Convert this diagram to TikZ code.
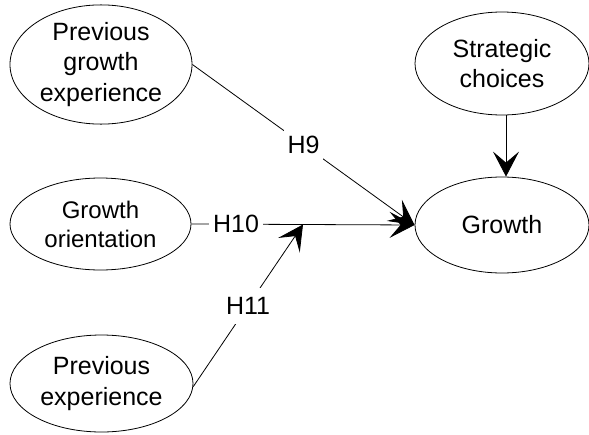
\documentclass[tikz,border=0pt]{standalone}
\usepackage{fontspec}
\setmainfont{Liberation Sans}
\usetikzlibrary{arrows.meta,shapes.geometric,calc}

\begin{document}
\begin{tikzpicture}[x=1pt,y=-1pt,
  construct/.style={draw, ellipse, line width=0.8pt, inner sep=0pt,
    align=center, font=\fontsize{25}{30.5}\selectfont},
  link/.style={line width=0.8pt,
    -{Stealth[length=25pt,width=26pt,inset=11pt]}},
  hyp/.style={fill=white, inner xsep=4pt, inner ysep=9.5pt,
    font=\fontsize{25}{30}\selectfont}
]
\useasboundingbox (0,0) rectangle (589,434);

% constructs
\node[construct, minimum width=182pt, minimum height=102pt] (pge) at (101,64.5)
  {Previous\\growth\\experience};
\node[construct, minimum width=181pt, minimum height=92pt,
  font=\fontsize{24}{29}\selectfont] (go) at (100.5,224)
  {Growth\\orientation};
\node[construct, minimum width=183pt, minimum height=97pt] (pe) at (101.5,383.5)
  {Previous\\experience};
\node[construct, minimum width=174pt, minimum height=103pt] (sc) at (502,63.5)
  {Strategic\\choices};
\node[construct, minimum width=174pt, minimum height=96pt] (gr) at (502,225)
  {Growth};

% moderating point on the H10 path
\coordinate (mod) at ($(go.east)!0.5!(gr.west)$);

% hypothesised paths
\draw[link] (pge.east) -- node[hyp] {H9} (gr.west);
\draw[link] (go.east) -- node[hyp, pos=0.2] {H10} (gr.west);
\draw[link] (pe.-2) -- node[hyp] {H11} (mod);
\draw[link] ([xshift=4pt]sc.south) -- ([xshift=4pt]gr.north);
\end{tikzpicture}
\end{document}
